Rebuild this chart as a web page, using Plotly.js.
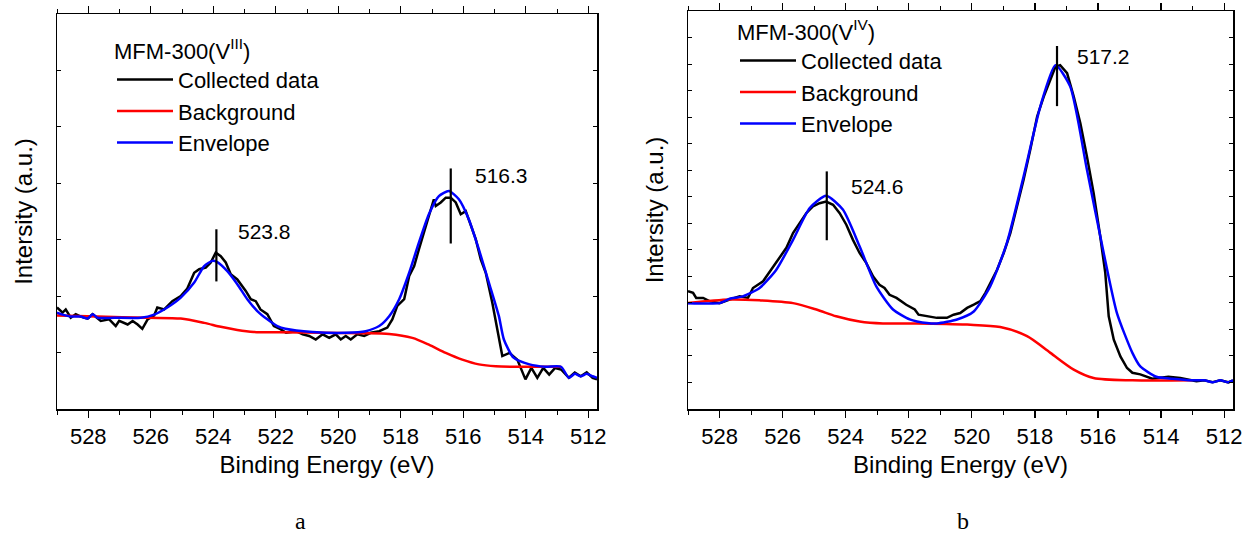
<!DOCTYPE html>
<html>
<head>
<meta charset="utf-8">
<script src="https://cdn.plot.ly/plotly-3.0.1.min.js"></script>
<style>html,body{margin:0;padding:0;background:#fff;}#chart{width:1243px;height:538px;}</style>
</head>
<body>
<div id="chart"></div>
<script>
// ---- Panel a: MFM-300(V^III) ----
const aCollectedE = [529.0, 528.82, 528.72, 528.56, 528.40, 528.24, 528.02, 527.86, 527.60, 527.33, 527.12, 527.01, 526.74, 526.58, 526.42, 526.27, 526.10, 525.89, 525.79, 525.57, 525.31, 525.04, 524.83, 524.61, 524.45, 524.24, 524.08, 523.92, 523.76, 523.60, 523.44, 523.23, 522.96, 522.80, 522.64, 522.49, 522.27, 522.06, 521.85, 521.67, 521.35, 521.14, 520.93, 520.72, 520.50, 520.29, 520.08, 519.92, 519.76, 519.60, 519.39, 519.17, 518.96, 518.69, 518.43, 518.27, 518.11, 517.89, 517.73, 517.57, 517.42, 517.26, 517.10, 516.94, 516.88, 516.72, 516.56, 516.40, 516.24, 516.08, 515.92, 515.76, 515.60, 515.44, 515.28, 515.07, 514.91, 514.75, 514.52, 514.27, 514.01, 513.82, 513.63, 513.44, 513.25, 513.06, 512.87, 512.62, 512.43, 512.24, 512.05, 511.86, 511.72];
const aCollectedI = [25.7, 24.4, 25.2, 23.1, 24.0, 23.4, 22.9, 24.0, 22.3, 22.7, 21.0, 22.3, 21.4, 22.3, 21.4, 20.3, 22.7, 23.7, 25.7, 25.2, 27.3, 28.6, 30.5, 34.5, 35.4, 35.8, 37.1, 39.6, 38.7, 37.1, 34.1, 32.8, 29.9, 27.8, 27.3, 25.2, 24.0, 21.0, 20.2, 19.3, 19.7, 18.9, 18.5, 17.6, 18.9, 18.0, 18.9, 17.6, 18.5, 17.6, 18.9, 18.5, 19.3, 19.7, 20.6, 22.7, 26.1, 27.8, 33.7, 36.2, 40.4, 44.7, 48.9, 53.1, 51.4, 52.3, 53.5, 53.5, 52.3, 49.3, 50.1, 46.3, 43.0, 37.9, 34.5, 26.9, 20.2, 13.4, 14.2, 12.5, 7.5, 10.4, 7.9, 10.4, 8.7, 10.4, 10.0, 7.9, 9.2, 8.3, 9.3, 7.9, 7.5];

const aEnvelopeE = [529.0, 528.82, 528.56, 528.24, 528.02, 527.86, 527.70, 527.17, 526.32, 525.89, 525.47, 525.04, 524.61, 524.29, 524.03, 523.87, 523.55, 523.23, 522.91, 522.59, 522.27, 521.95, 521.69, 520.82, 519.76, 519.12, 518.69, 518.37, 518.05, 517.73, 517.42, 517.10, 516.78, 516.46, 516.14, 515.82, 515.50, 515.18, 514.86, 514.70, 514.39, 513.88, 513.38, 512.87, 512.62, 512.43, 512.24, 512.05, 511.86, 511.72];
const aEnvelopeI = [24.4, 23.9, 23.4, 23.4, 22.9, 24.0, 23.1, 23.1, 23.1, 23.9, 25.7, 28.2, 32.0, 36.2, 37.5, 37.2, 34.9, 31.6, 27.8, 24.8, 22.7, 21.0, 20.3, 19.5, 19.3, 19.7, 21.0, 23.5, 27.8, 34.5, 42.1, 49.3, 53.9, 55.2, 53.1, 48.0, 40.4, 32.0, 23.5, 17.6, 13.0, 11.3, 10.7, 10.7, 7.9, 8.9, 8.3, 8.9, 8.3, 7.9];

const aBackgroundE = [529.0, 527.70, 526.10, 525.04, 524.29, 523.76, 523.23, 522.70, 521.89, 520.50, 519.23, 518.37, 517.63, 517.10, 516.56, 516.03, 515.50, 514.96, 514.40, 513.50, 512.87];
const aBackgroundI = [23.7, 23.4, 23.1, 22.9, 21.8, 20.8, 20.0, 19.5, 19.4, 19.3, 19.2, 19.0, 18.0, 16.3, 14.2, 12.5, 11.3, 10.8, 10.7, 10.7, 10.7];

const aPeakPos = [523.9, 516.4];
const aPeakLabels = ["523.8", "516.3"];
const aPeakBottom = [32.3, 41.9];
const aPeakTop = [45.5, 60.9];

// ---- Panel b: MFM-300(V^IV) ----
const bCollectedE = [529.0, 528.84, 528.74, 528.52, 528.32, 528.00, 527.68, 527.36, 527.10, 526.94, 526.62, 526.30, 526.10, 525.88, 525.67, 525.46, 525.25, 525.04, 524.83, 524.62, 524.40, 524.19, 523.98, 523.77, 523.56, 523.35, 523.13, 522.93, 522.77, 522.61, 522.39, 522.08, 521.81, 521.69, 521.42, 521.11, 520.79, 520.58, 520.37, 520.15, 519.94, 519.73, 519.57, 519.42, 519.20, 518.99, 518.78, 518.57, 518.36, 518.15, 517.93, 517.72, 517.51, 517.35, 517.20, 516.98, 516.77, 516.56, 516.35, 516.14, 515.93, 515.77, 515.66, 515.50, 515.29, 515.08, 514.91, 514.66, 514.28, 513.77, 513.39, 513.14, 512.88, 512.63, 512.37, 512.12, 511.87, 511.72];
const bCollectedI = [29.6, 29.2, 27.9, 27.9, 27.1, 26.6, 27.5, 28.3, 27.9, 30.4, 32.1, 35.8, 37.9, 40.5, 44.2, 46.7, 49.2, 50.9, 51.7, 52.1, 51.3, 49.2, 46.3, 42.5, 39.2, 36.7, 33.3, 31.2, 30.4, 28.7, 27.9, 26.2, 25.0, 23.7, 23.3, 22.9, 22.9, 23.7, 24.1, 25.4, 26.2, 27.1, 29.2, 31.7, 35.0, 39.2, 44.2, 50.9, 57.6, 65.1, 73.5, 78.5, 82.7, 86.0, 86.4, 84.4, 78.5, 71.8, 63.4, 54.3, 43.4, 34.2, 23.3, 17.4, 13.2, 10.3, 9.1, 8.7, 7.6, 8.1, 7.8, 7.4, 7.0, 7.2, 6.7, 7.2, 6.7, 7.2];

const bEnvelopeE = [529.0, 528.00, 527.68, 527.26, 526.73, 526.20, 525.67, 525.14, 524.62, 524.09, 523.56, 523.03, 522.50, 521.97, 521.74, 521.11, 520.47, 519.94, 519.42, 518.89, 518.36, 517.83, 517.35, 516.88, 516.35, 515.82, 515.40, 514.91, 514.66, 514.15, 513.64, 513.01, 512.63, 512.37, 512.12, 511.87, 511.72];
const bEnvelopeI = [26.6, 26.6, 27.7, 28.3, 30.4, 35.0, 42.5, 50.5, 53.6, 50.1, 40.9, 30.8, 25.0, 22.5, 22.0, 21.5, 22.5, 24.5, 30.8, 41.7, 58.4, 76.0, 86.4, 81.0, 60.1, 39.2, 24.1, 14.1, 10.7, 8.1, 7.6, 7.2, 7.2, 6.7, 7.2, 6.7, 7.2];

const bBackgroundE = [529.0, 527.68, 526.73, 525.67, 524.93, 524.30, 523.56, 522.82, 521.76, 520.15, 519.10, 518.25, 517.51, 516.77, 516.14, 514.91, 513.01];
const bBackgroundI = [26.6, 27.5, 27.3, 26.6, 25.0, 23.3, 22.0, 21.5, 21.5, 21.2, 20.6, 18.3, 14.1, 9.9, 7.8, 7.2, 7.2];

const bPeakPos = [524.6, 517.3];
const bPeakLabels = ["524.6", "517.2"];
const bPeakBottom = [42.4, 76.1];
const bPeakTop = [59.7, 91.2];

const seriesNames = ["Collected data", "Background", "Envelope"];
const panelTitles = ["MFM-300(V<sup>III</sup>)", "MFM-300(V<sup>IV</sup>)"];
const xTickVals = [528, 526, 524, 522, 520, 518, 516, 514, 512];
const panelLetters = ["a", "b"];

const FONT = "Liberation Sans, Arial, sans-serif";
const W = 1243, H = 538;

function panelTraces(xa, ya, leg, cE, cI, eE, eI, gE, gI, pPos, pBot, pTop) {
  const t = [];
  t.push({x: cE, y: cI, xaxis: xa, yaxis: ya, type: 'scatter', mode: 'lines', name: seriesNames[0], legend: leg,
          line: {color: '#000000', width: 2.5}});
  t.push({x: gE, y: gI, xaxis: xa, yaxis: ya, type: 'scatter', mode: 'lines', name: seriesNames[1], legend: leg,
          line: {color: '#ff0000', width: 2.5, shape: 'spline', smoothing: 0.8}});
  t.push({x: eE, y: eI, xaxis: xa, yaxis: ya, type: 'scatter', mode: 'lines', name: seriesNames[2], legend: leg,
          line: {color: '#0000ff', width: 2.5, shape: 'spline', smoothing: 0.6}});
  for (let i = 0; i < pPos.length; i++) {
    t.push({x: [pPos[i], pPos[i]], y: [pBot[i], pTop[i]], xaxis: xa, yaxis: ya, type: 'scatter', mode: 'lines',
            showlegend: false, hoverinfo: 'skip', line: {color: '#000000', width: 2.2}});
  }
  return t;
}

const data = [].concat(
  panelTraces('x', 'y', 'legend', aCollectedE, aCollectedI, aEnvelopeE, aEnvelopeI, aBackgroundE, aBackgroundI, aPeakPos, aPeakBottom, aPeakTop),
  panelTraces('x2', 'y2', 'legend2', bCollectedE, bCollectedI, bEnvelopeE, bEnvelopeI, bBackgroundE, bBackgroundI, bPeakPos, bPeakBottom, bPeakTop)
);

function xAxis(domain, anchor) {
  return {
    domain: domain, anchor: anchor, range: [529, 511.72], autorange: false,
    tickmode: 'array', tickvals: xTickVals, ticktext: xTickVals.map(String),
    ticks: 'outside', ticklen: 7, tickwidth: 1.3, tickcolor: '#000',
    minor: {dtick: 1, tick0: 0, ticks: 'outside', ticklen: 4, tickwidth: 1, tickcolor: '#000'},
    showline: true, linecolor: '#000', linewidth: 1.5, mirror: 'ticks',
    showgrid: false, zeroline: false,
    tickfont: {family: FONT, size: 22, color: '#000'},
    title: {text: 'Binding Energy (eV)', font: {family: FONT, size: 24, color: '#000'}, standoff: 8},
    automargin: false
  };
}
function yAxis(domain, anchor, dt) {
  return {
    domain: domain, anchor: anchor, range: [0, 100], autorange: false,
    tick0: 0, dtick: dt, ticks: 'inside', ticklen: 4, tickwidth: 1, tickcolor: '#000',
    showticklabels: false,
    showline: true, linecolor: '#000', linewidth: 1.5, mirror: 'ticks',
    showgrid: false, zeroline: false,
    title: {text: 'Intersity (a.u.)', font: {family: FONT, size: 24, color: '#000'}, standoff: 16},
    automargin: false
  };
}

const annotations = [];
function addPeakLabels(xref, yref, pos, labels, ys) {
  for (let i = 0; i < pos.length; i++) {
    annotations.push({xref: xref, yref: yref, x: pos[i], y: ys[i], text: labels[i], showarrow: false,
      xanchor: 'left', yanchor: 'middle', font: {family: FONT, size: 21, color: '#000'}});
  }
}
addPeakLabels('x', 'y', [523.27, 515.68], aPeakLabels, [45.0, 59.2]);
addPeakLabels('x2', 'y2', [523.9, 516.72], bPeakLabels, [55.9, 88.5]);
annotations.push({xref: 'paper', yref: 'paper', x: 300 / W, y: 1 - 521 / H, text: panelLetters[0], showarrow: false,
  xanchor: 'center', yanchor: 'middle', font: {family: 'Liberation Serif, Times New Roman, serif', size: 24, color: '#000'}});
annotations.push({xref: 'paper', yref: 'paper', x: 963 / W, y: 1 - 521 / H, text: panelLetters[1], showarrow: false,
  xanchor: 'center', yanchor: 'middle', font: {family: 'Liberation Serif, Times New Roman, serif', size: 24, color: '#000'}});

function legendCfg(x, y, title) {
  return {x: x, y: y, xanchor: 'left', yanchor: 'top', bgcolor: 'rgba(0,0,0,0)', borderwidth: 0,
    font: {family: FONT, size: 22, color: '#000'}, tracegroupgap: 0, itemwidth: 56,
    title: {text: title, font: {family: FONT, size: 22, color: '#000'}}};
}

const layout = {
  width: W, height: H,
  margin: {l: 0, r: 0, t: 0, b: 0},
  paper_bgcolor: '#fff', plot_bgcolor: '#fff',
  showlegend: true,
  xaxis: xAxis([57 / W, 597 / W], 'y'),
  yaxis: yAxis([1 - 409 / H, 1 - 14 / H], 'x', 100 / 7),
  xaxis2: xAxis([688 / W, 1233 / W], 'y2'),
  yaxis2: yAxis([1 - 409 / H, 1 - 11 / H], 'x2', 100 / 15),
  legend: legendCfg(112 / W, 1 - 30 / H, panelTitles[0]),
  legend2: legendCfg(735 / W, 1 - 11 / H, panelTitles[1]),
  annotations: annotations
};

Plotly.newPlot('chart', data, layout, {staticPlot: true, displayModeBar: false});
</script>
</body>
</html>
